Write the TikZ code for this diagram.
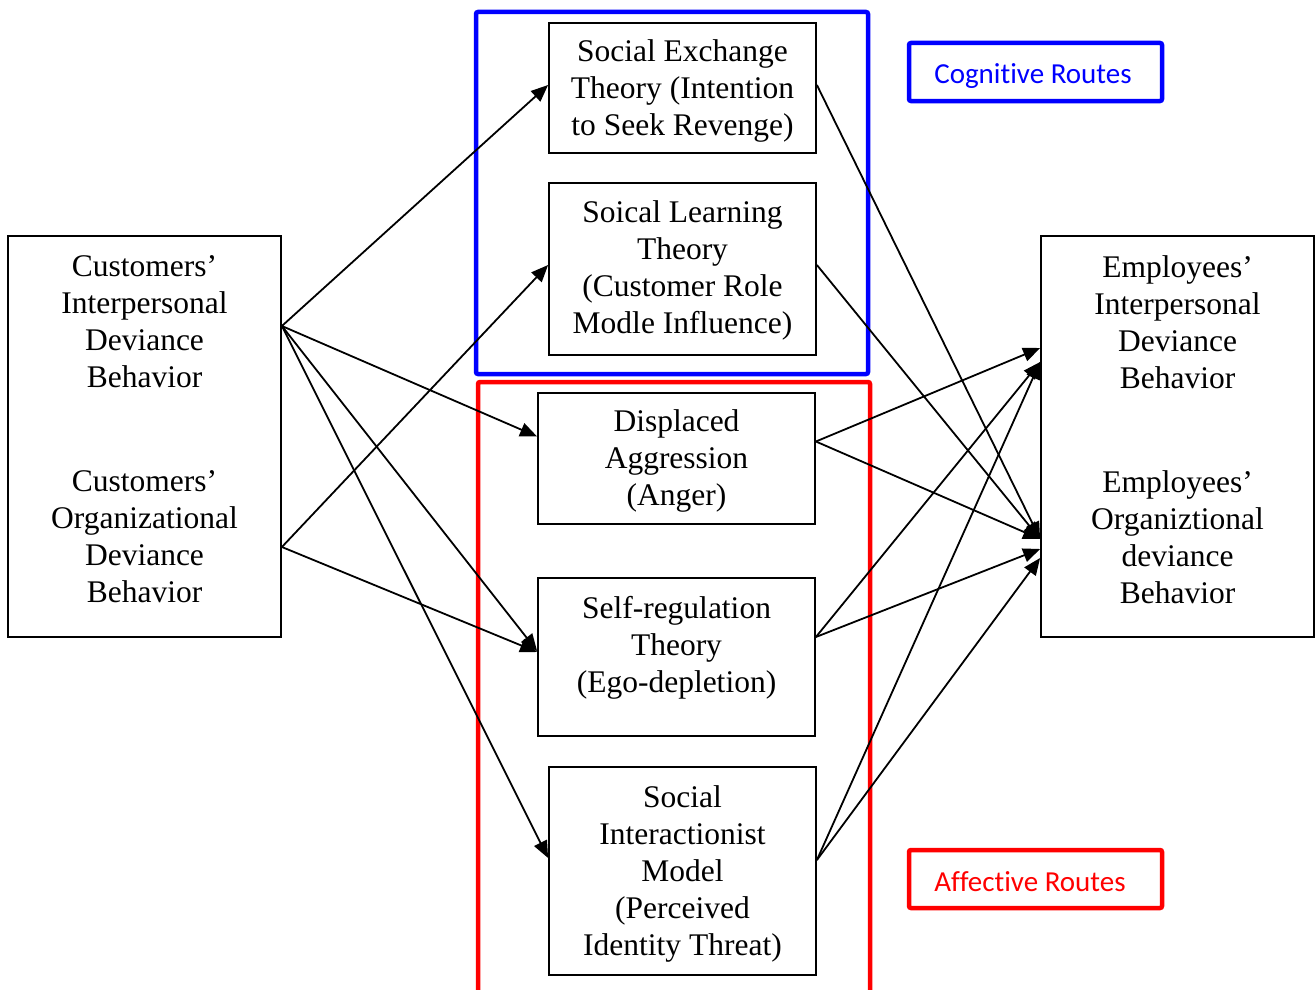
\documentclass[tikz,border=0pt]{standalone}
\usepackage{fontspec}
\setmainfont{Liberation Serif}
\newfontfamily\calib[Ligatures={NoCommon}]{Carlito}
\usetikzlibrary{calc,arrows.meta}
\tikzset{
  box/.style={draw=black, line width=1.8pt, inner sep=0pt},
  txt/.style={align=center, font=\fontsize{31.5}{37}\selectfont, inner sep=0pt},
  route/.style={line width=4.5pt, rounded corners=2pt},
  rlabel/.style={font=\calib\fontsize{29}{34}\selectfont, inner sep=0pt},
  arr/.style={line width=1.8pt, -{Triangle[length=17pt,width=14pt]}}
}
\begin{document}
\begin{tikzpicture}[x=1pt,y=-1pt]
\useasboundingbox (0,0) rectangle (1315,990);
% groups
\draw[route, draw=blue] (476,12) rectangle (868,374);
\draw[route, draw=red] (478,382) rectangle (870,1000);
% left box
\node[box, minimum width=273pt, minimum height=401pt] (L) at (144.5,436.5) {};
\node[txt] (ci) at (144.5,322) {Customers’\\Interpersonal\\Deviance\\Behavior};
\node[txt] (co) at (144.5,537) {Customers’\\Organizational\\Deviance\\Behavior};
% right box
\node[box, minimum width=273pt, minimum height=401pt] (R) at (1177.5,436.5) {};
\node[txt] (ei) at (1177.5,322) {Employees’\\Interpersonal\\Deviance\\Behavior};
\node[txt] (eo) at (1177.5,537) {Employees’\\Organiztional\\deviance\\Behavior};
% middle
\node[box, minimum width=267pt, minimum height=130pt] (set) at (682.5,88) {};
\node[txt] at (682.5,91) {Social Exchange\\Theory (Intention\\to Seek Revenge)};
\node[box, minimum width=267pt, minimum height=172pt] (slt) at (682.5,269) {};
\node[txt] at (682.5,270.5) {Soical Learning\\Theory\\(Customer Role\\Modle Influence)};
\node[box, minimum width=277pt, minimum height=131pt] (da) at (676.5,458.5) {};
\node[txt] at (676.5,461) {Displaced\\Aggression\\(Anger)};
\node[box, minimum width=277pt, minimum height=158pt] (srt) at (676.5,657) {};
\node[txt] at (676.5,648) {Self-regulation\\Theory\\(Ego-depletion)};
\node[box, minimum width=267pt, minimum height=208pt] (sim) at (682.5,871) {};
\node[txt] at (682.5,873.5) {Social\\Interactionist\\Model\\(Perceived\\Identity Threat)};
% route labels
\draw[route, draw=blue] (909,43) rectangle (1162,101);
\node[rlabel, text=blue] (cog) at (1033,76) {Cognitive Routes};
\draw[route, draw=red] (909,850) rectangle (1162,908);
\node[rlabel, text=red] (aff) at (1030,882) {Affective Routes};
% left arrows
\coordinate (ls1) at (L.east |- 0,326);
\coordinate (ls2) at (L.east |- 0,547);
\draw[arr] (ls1) -- ($(set.west)+(0,-3)$);
\draw[arr] (ls1) -- ($(da.west)+(0,-22)$);
\draw[arr] (ls1) -- ($(srt.west)+(0,-6)$);
\draw[arr] (ls1) -- ($(sim.west)+(0,-13)$);
\draw[arr] (ls2) -- ($(slt.west)+(0,-4)$);
\draw[arr] (ls2) -- ($(srt.west)+(0,-5)$);
% right arrows
\coordinate (rt1) at (R.west |- 0,348);
\coordinate (rt2) at (R.west |- 0,362);
\coordinate (rb1) at (R.west |- 0,539);
\coordinate (rb2) at (R.west |- 0,549);
\coordinate (rb3) at (R.west |- 0,558);
\draw[arr] ($(set.east)+(0,-3)$) -- (rb1);
\draw[arr] ($(slt.east)+(0,-4)$) -- (rb1);
\draw[arr] ($(da.east)+(0,-17)$) -- (rt1);
\draw[arr] ($(da.east)+(0,-17)$) -- (rb1);
\draw[arr] ($(srt.east)+(0,-20)$) -- (rt2);
\draw[arr] ($(srt.east)+(0,-20)$) -- (rb2);
\draw[arr] ($(sim.east)+(0,-11)$) -- (rt2);
\draw[arr] ($(sim.east)+(0,-11)$) -- (rb3);
\end{tikzpicture}
\end{document}
